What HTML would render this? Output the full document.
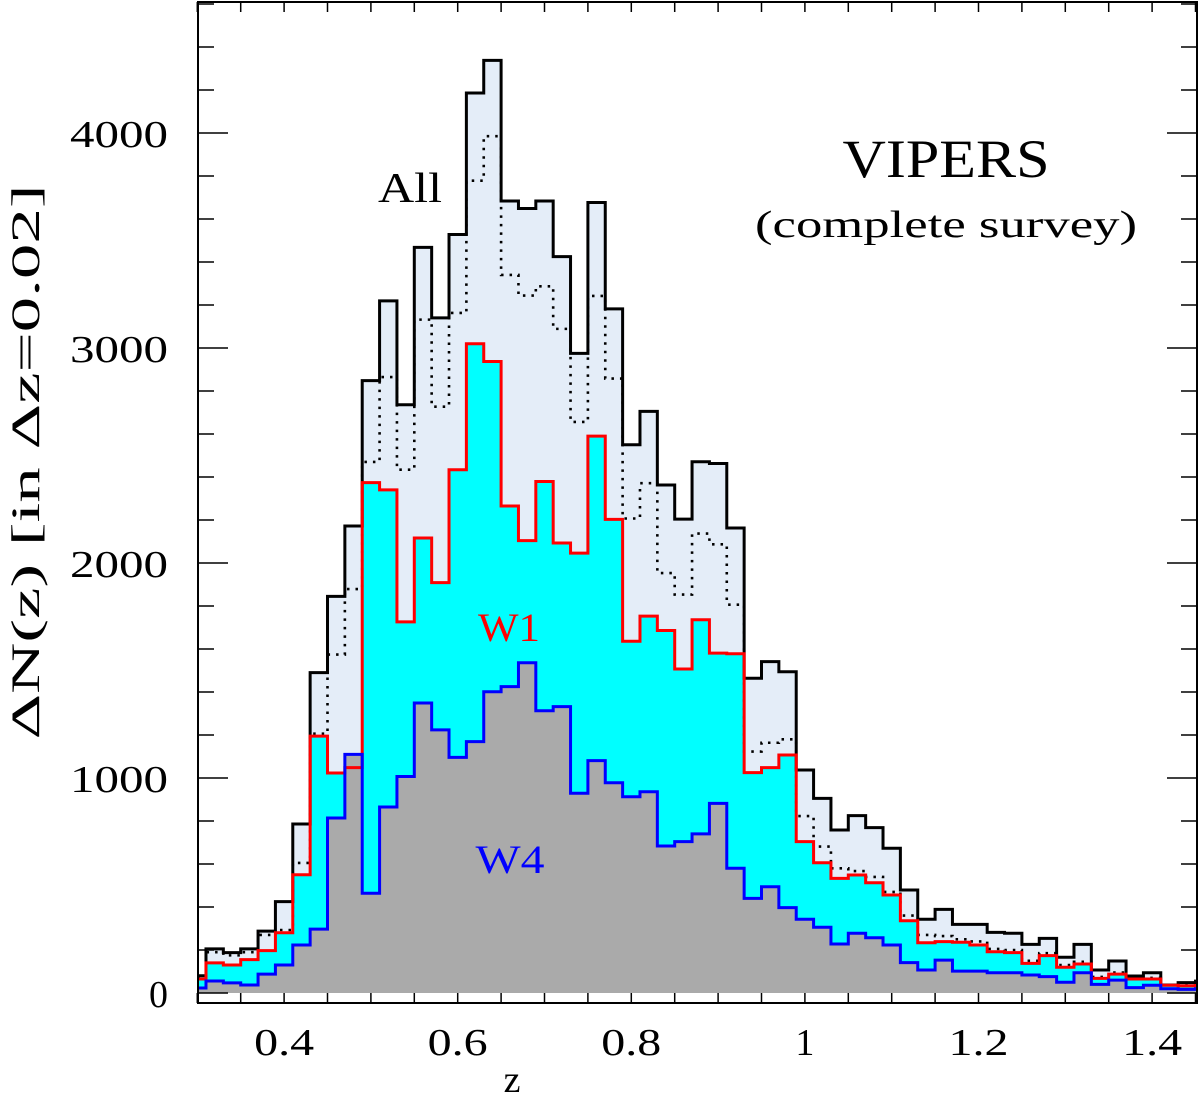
<!DOCTYPE html>
<html><head><meta charset="utf-8"><style>
html,body{margin:0;padding:0;background:#fff;}
svg{display:block;}
text{font-family:"Liberation Serif",serif;}
</style></head><body>
<svg id="chart" width="1200" height="1102" viewBox="0 0 1200 1102" xmlns="http://www.w3.org/2000/svg">
<g id="fills"></g><g id="lines"></g><g id="axes"></g>
</svg>
<script>
const binStart = 0.29;
const binWidth = 0.02;
const allCounts = [80,205,188,205,288,425,786,1490,1845,2172,2848,3219,2736,3468,3140,3528,4186,4338,3684,3649,3684,3425,2975,3677,3182,2550,2705,2363,2204,2471,2463,2163,1464,1541,1494,1037,905,758,825,769,673,479,343,389,319,319,282,278,226,254,166,226,107,149,79,94,37,48,55];
const dottedCounts = [75,190,175,190,270,293,605,1206,1574,1879,2470,2865,2434,3132,2727,3163,3778,3985,3340,3244,3287,3089,2656,3242,2858,2207,2371,1953,1853,2137,2087,1806,1123,1164,1180,823,681,580,567,540,470,360,270,265,250,240,205,200,150,185,130,145,75,95,70,70,36,35,40];
const w1Counts = [65,140,130,155,197,280,550,1195,1023,1048,2374,2340,1726,2116,1909,2434,3020,2937,2265,2104,2379,2093,2046,2590,2203,1636,1753,1686,1507,1736,1581,1578,1025,1048,1107,704,606,533,549,513,456,336,234,239,236,223,192,188,138,174,120,135,68,88,65,65,36,33,35];
const w4Counts = [23,56,47,37,88,130,223,297,814,1110,464,865,1007,1349,1224,1096,1169,1401,1425,1536,1313,1332,929,1081,978,913,936,684,704,740,882,580,440,494,397,343,306,228,278,257,223,141,107,153,102,102,94,94,84,76,50,94,40,60,25,36,20,17,20];
const yTickLabels = ["0","1000","2000","3000","4000"];
const xTickLabels = ["0.4","0.6","0.8","1","1.2","1.4"];

const L=198,R=1197,T=2,B=1003;
const zMin=0.3;
function X(z){return 197.3+868*(z-zMin);}
function Y(v){return 993-0.215*v;}
const zMax=zMin+(R-197.3)/868;
const NS="http://www.w3.org/2000/svg";
function mk(tag,attrs,parent){const e=document.createElementNS(NS,tag);for(const k in attrs)e.setAttribute(k,attrs[k]);parent.appendChild(e);return e;}
function stepPath(arr,closed){
  let d="";
  for(let i=0;i<arr.length;i++){
    let z0=Math.max(binStart+i*binWidth,zMin),z1=Math.min(binStart+(i+1)*binWidth,zMax);
    if(z1<=z0)continue;
    const x0=X(z0),x1=X(z1),y=Y(arr[i]);
    d+=(d===""?(closed?"M"+x0+","+Y(0)+" L":"M"):" L")+x0+","+y+" L"+x1+","+y;
  }
  if(closed)d+=" L"+X(zMax)+","+Y(0)+" Z";
  return d;
}
const fills=document.getElementById('fills'),lines=document.getElementById('lines'),axes=document.getElementById('axes');
let e;
e=mk('path',{d:stepPath(allCounts,true),fill:'#e4edf8',stroke:'none'},fills);


e=mk('path',{d:stepPath(w1Counts,true),fill:'#00ffff',stroke:'none'},fills);


e=mk('path',{d:stepPath(w4Counts,true),fill:'#aaaaaa',stroke:'none'},fills);


e=mk('path',{d:stepPath(dottedCounts,false),fill:'none',stroke:'#000','stroke-width':2.6,'stroke-dasharray':'2.5 6'},lines);


e=mk('path',{d:stepPath(allCounts,false),fill:'none',stroke:'#000','stroke-width':3},lines);


e=mk('path',{d:stepPath(w1Counts,false),fill:'none',stroke:'#ff0000','stroke-width':3},lines);


e=mk('path',{d:stepPath(w4Counts,false),fill:'none',stroke:'#0000ff','stroke-width':3},lines);



e=mk('rect',{x:L,y:T,width:R-L,height:B-T,fill:'none',stroke:'#000','stroke-width':2},axes);


for(let v=0;v<=4600;v+=200){
  const y=Y(v),len=(v%1000===0)?30:16;
  e=mk('line',{x1:L,x2:L+len,y1:y,y2:y,stroke:'#000','stroke-width':1.5},axes);
  
  
  e=mk('line',{x1:R-len,x2:R,y1:y,y2:y,stroke:'#000','stroke-width':1.5},axes);
  
  
}
yTickLabels.forEach((s)=>{
  const v=+s;
  const attrs={x:168,y:Y(v)+14,'text-anchor':'end','font-size':38};
  if(s.length===4){attrs.textLength=98;attrs.lengthAdjust='spacingAndGlyphs';}
  e=mk('text',attrs,axes);
  e.textContent=s;
  
  
});
for(let z=0.3;z<zMax+1e-6;z+=0.05){
  const x=X(z),len=10;
  e=mk('line',{x1:x,x2:x,y1:B,y2:B-len,stroke:'#000','stroke-width':1.5},axes);
  
  
  e=mk('line',{x1:x,x2:x,y1:T,y2:T+len,stroke:'#000','stroke-width':1.5},axes);
  
  
}
xTickLabels.forEach((s)=>{
  const attrs={x:X(+s),y:1055,'text-anchor':'middle','font-size':38};
  if(s.length===3){attrs.textLength=60;attrs.lengthAdjust='spacingAndGlyphs';}
  e=mk('text',attrs,axes);
  e.textContent=s;
  
  
});
</script>
<div style="position:absolute;left:0;top:0;width:1200px;height:1102px;pointer-events:none;">
<svg width="1200" height="1102" style="position:absolute;left:0;top:0">
<text x="512" y="1092" text-anchor="middle" font-size="38" font-family="Liberation Serif, serif">z</text>
<text transform="translate(39,462) rotate(-90)" text-anchor="middle" font-size="40" textLength="555" lengthAdjust="spacingAndGlyphs" font-family="Liberation Serif, serif">ΔN(z) [in Δz=0.02]</text>
<text x="946" y="177" text-anchor="middle" font-size="54" textLength="207" lengthAdjust="spacingAndGlyphs" font-family="Liberation Serif, serif">VIPERS</text>
<text x="946" y="237" text-anchor="middle" font-size="38" textLength="382" lengthAdjust="spacingAndGlyphs" font-family="Liberation Serif, serif">(complete survey)</text>
<text x="410" y="202" text-anchor="middle" font-size="42" textLength="64" lengthAdjust="spacingAndGlyphs" font-family="Liberation Serif, serif">All</text>
<text x="509" y="641" text-anchor="middle" font-size="40" fill="#ff0000" textLength="62" lengthAdjust="spacingAndGlyphs" font-family="Liberation Serif, serif">W1</text>
<text x="510" y="873" text-anchor="middle" font-size="40" fill="#0000ff" textLength="69" lengthAdjust="spacingAndGlyphs" font-family="Liberation Serif, serif">W4</text>
</svg>
</div>
</body></html>
